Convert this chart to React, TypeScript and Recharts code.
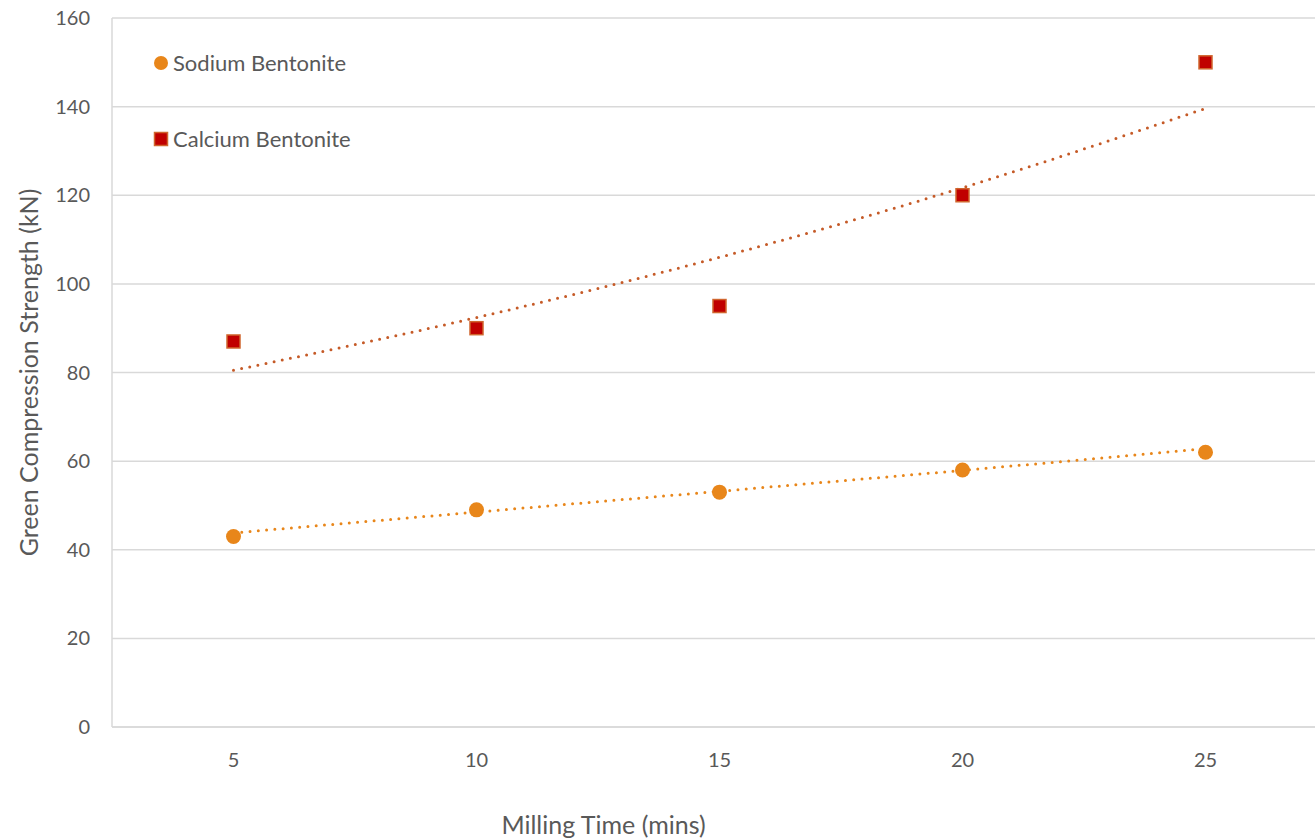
import * as React from "react";
import {
  CartesianGrid,
  ComposedChart,
  Label,
  Line,
  Scatter,
  XAxis,
  YAxis,
} from "recharts";

// milling time categories (mins)
const millingTimes = [5, 10, 15, 20, 25];
// measured green compression strength (kN)
const sodiumValues = [43, 49, 53, 58, 62];
const calciumValues = [87, 90, 95, 120, 150];
// trendline values
const sodiumTrend = [43.8, 48.5, 53.2, 57.9, 62.8];
const calciumTrend = [80.5, 92.4, 106, 121.7, 139.6];
const yTicks = [0, 20, 40, 60, 80, 100, 120, 140, 160];

const SODIUM = "#E8861A";
const CALCIUM = "#C00000";
const CALCIUM_EDGE = "#D0652E";
const CALCIUM_TREND = "#C55A27";
const TEXT = "#595959";
const FONT = "Lato, 'Open Sans', sans-serif";

const data = millingTimes.map((t, i) => ({
  time: t,
  sodium: sodiumValues[i],
  calcium: calciumValues[i],
  sodiumTrend: sodiumTrend[i],
  calciumTrend: calciumTrend[i],
}));

const Dot = (props: any) => {
  const { cx, cy } = props;
  if (cx == null || cy == null) return null;
  return <circle cx={cx} cy={cy} r={7.5} fill={SODIUM} />;
};

const Square = (props: any) => {
  const { cx, cy } = props;
  if (cx == null || cy == null) return null;
  return (
    <rect
      x={cx - 6.5}
      y={cy - 6.5}
      width={13}
      height={13}
      fill={CALCIUM}
      stroke={CALCIUM_EDGE}
      strokeWidth={1.5}
    />
  );
};

const LegendBox = () => (
  <div
    style={{
      position: "absolute",
      left: 153,
      top: 48,
      fontFamily: FONT,
      fontSize: 22,
      color: TEXT,
      lineHeight: "30px",
    }}
  >
    <div style={{ display: "flex", alignItems: "center", height: 30 }}>
      <svg width={16} height={16} style={{ marginRight: 4 }}>
        <circle cx={8} cy={8} r={7} fill={SODIUM} />
      </svg>
      Sodium Bentonite
    </div>
    <div style={{ display: "flex", alignItems: "center", height: 30, marginTop: 46 }}>
      <svg width={16} height={16} style={{ marginRight: 4 }}>
        <rect x={1.5} y={1.5} width={13} height={13} fill={CALCIUM} stroke={CALCIUM_EDGE} strokeWidth={1.5} />
      </svg>
      Calcium Bentonite
    </div>
  </div>
);

export default function App() {
  return (
    <div
      style={{
        position: "absolute",
        left: 0,
        top: 0,
        width: 1315,
        height: 839,
        overflow: "hidden",
        background: "#fff",
      }}
    >
      <ComposedChart
        width={1330}
        height={839}
        data={data}
        margin={{ top: 18, right: 3, bottom: 0, left: 0 }}
        style={{ fontFamily: FONT }}
      >
        <CartesianGrid vertical={false} stroke="#D9D9D9" strokeWidth={1.5} />
        <XAxis
          dataKey="time"
          type="number"
          domain={[2.5, 27.5]}
          ticks={millingTimes}
          height={112}
          tickLine={false}
          tickSize={0}
          tickMargin={26}
          axisLine={{ stroke: "#D9D9D9", strokeWidth: 1.5 }}
          tick={{ fill: TEXT, fontSize: 20 }}
        >
          <Label
            value="Milling Time (mins)"
            position="insideBottom"
            offset={5}
            dx={-116}
            fill={TEXT}
            fontSize={25}
          />
        </XAxis>
        <YAxis
          width={112}
          domain={[0, 160]}
          ticks={yTicks}
          tickLine={false}
          tickSize={0}
          tickMargin={22}
          axisLine={{ stroke: "#D9D9D9", strokeWidth: 1.5 }}
          tick={{ fill: TEXT, fontSize: 20 }}
        >
          <Label
            value="Green Compression Strength (kN)"
            angle={-90}
            position="insideLeft"
            offset={29}
            style={{ textAnchor: "middle" }}
            fill={TEXT}
            fontSize={25}
          />
        </YAxis>
        <Line
          dataKey="sodiumTrend"
          type="linear"
          stroke={SODIUM}
          strokeWidth={3}
          strokeDasharray="0 8.3"
          strokeLinecap="round"
          dot={false}
          activeDot={false}
          legendType="none"
          isAnimationActive={false}
        />
        <Line
          dataKey="calciumTrend"
          type="monotone"
          stroke={CALCIUM_TREND}
          strokeWidth={3}
          strokeDasharray="0 8.3"
          strokeLinecap="round"
          dot={false}
          activeDot={false}
          legendType="none"
          isAnimationActive={false}
        />
        <Scatter dataKey="sodium" shape={<Dot />} isAnimationActive={false} />
        <Scatter dataKey="calcium" shape={<Square />} isAnimationActive={false} />
      </ComposedChart>
      <LegendBox />
    </div>
  );
}
